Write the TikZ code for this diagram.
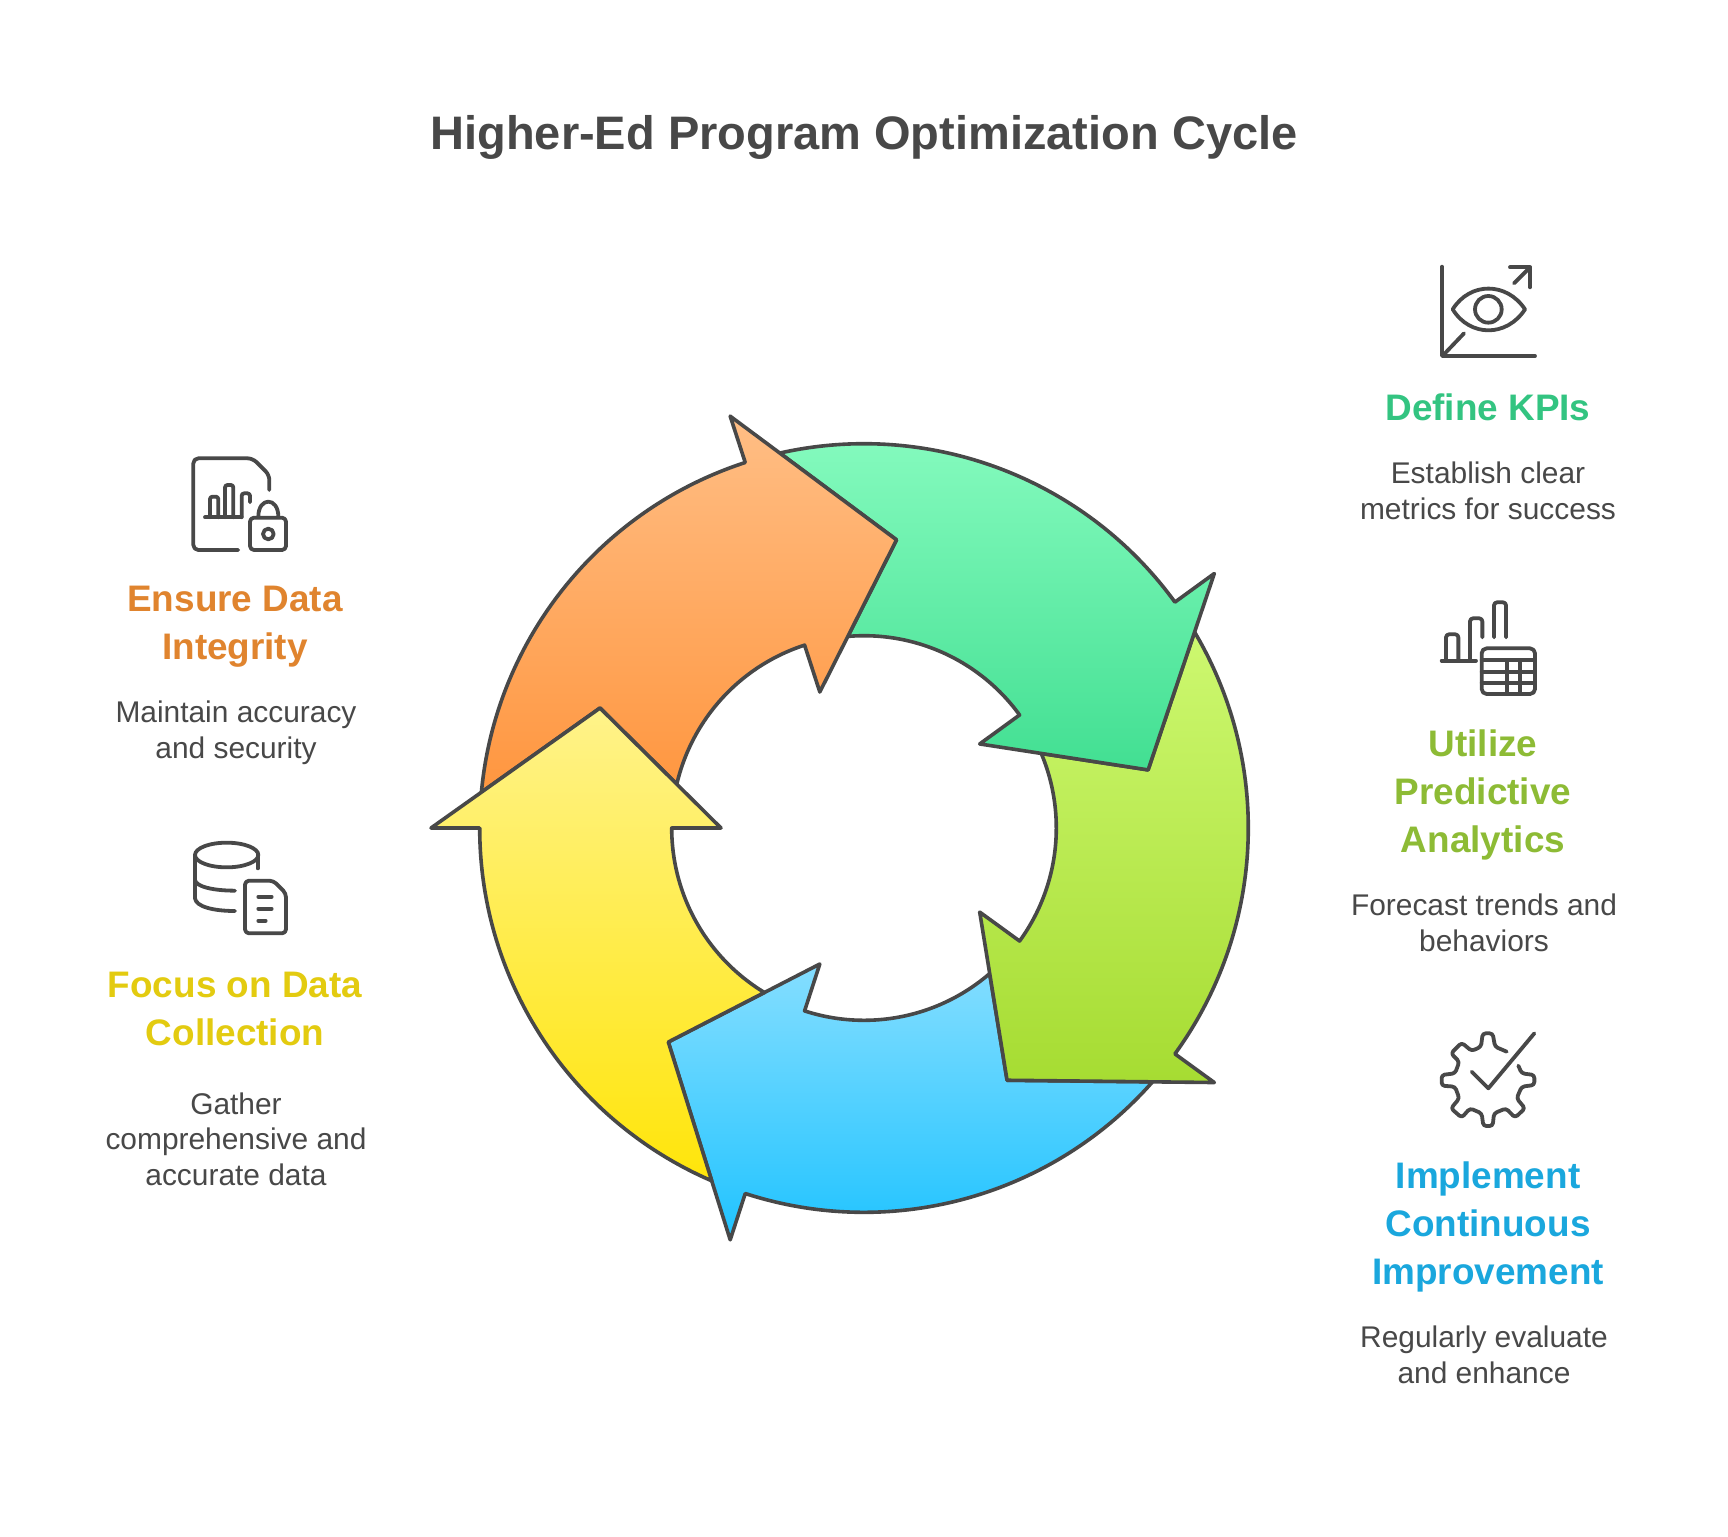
\documentclass[tikz,border=0pt]{standalone}
\usepackage{fontspec}
\setmainfont{Liberation Sans}
\definecolor{ink}{HTML}{484848}
\definecolor{bluet}{HTML}{85DEFF}\definecolor{blueb}{HTML}{1FC3FF}
\definecolor{limet}{HTML}{CDF870}\definecolor{limeb}{HTML}{A6DC32}
\definecolor{greent}{HTML}{88FCC0}\definecolor{greenb}{HTML}{42DF92}
\definecolor{oranget}{HTML}{FFBE85}\definecolor{orangeb}{HTML}{FF963F}
\definecolor{yellowt}{HTML}{FFF38A}\definecolor{yellowb}{HTML}{FFE50A}
\definecolor{kpi}{HTML}{33C481}
\definecolor{ana}{HTML}{8DBB35}
\definecolor{imp}{HTML}{1AA7DD}
\definecolor{ens}{HTML}{E0842E}
\definecolor{foc}{HTML}{E3CB10}
\tikzset{
  ring/.style={draw=ink,line width=3.6pt,line join=round},
  ico/.style={draw=ink,line width=3.8pt,line cap=round,line join=round},
  head/.style={inner sep=0pt,align=center,font=\fontsize{36.9}{48}\selectfont\bfseries},
  body/.style={inner sep=0pt,align=center,text=ink,font=\fontsize{29.9}{35.7}\selectfont},
  ttl/.style={inner sep=0pt,text=ink,font=\fontsize{47}{55}\selectfont\bfseries},
}
\newcommand{\ringarrow}[3]{%
  \path[ring,top color=#2,bottom color=#3]
    ({#1-66.66}:384.3) arc[start angle={#1-66.66},end angle={#1},radius=384.3]
    -- (#1:433) -- ({#1+24.44}:290) -- (#1:143) -- (#1:192.3)
    arc[start angle={#1},end angle={#1-58.8},radius=192.3]
    -- ({#1-47.56}:290) -- cycle;}
\begin{document}
\begin{tikzpicture}[x=1pt,y=-1pt]
\useasboundingbox (0,0) rectangle (1728,1536);
\fill[white] (0,0) rectangle (1728,1536);
\begin{scope}[shift={(864,828)}]
  \ringarrow{108}{bluet}{blueb}
  \ringarrow{36}{limet}{limeb}
  \ringarrow{-36}{greent}{greenb}
  \ringarrow{252}{oranget}{orangeb}
  \ringarrow{180}{yellowt}{yellowb}
\end{scope}
\node[ttl] (title) at (864,137) {Higher-Ed Program Optimization Cycle};
\node[head,text=kpi] (h1) at (1488,407) {Define KPIs};
\node[body] (b1) at (1488,490.5) {Establish clear\\metrics for success};
\node[head,text=ana] (h2) at (1483,795) {Utilize\\Predictive\\Analytics};
\node[body] (b2) at (1484,922.5) {Forecast trends and\\behaviors};
\node[head,text=imp] (h3) at (1488,1227) {Implement\\Continuous\\Improvement};
\node[body] (b3) at (1484,1354.5) {Regularly evaluate\\and enhance};
\node[head,text=ens] (h4) at (235,627) {Ensure Data\\Integrity};
\node[body] (b4) at (236,732.5) {Maintain accuracy\\and security};
\node[head,text=foc] (h5) at (235,1008.5) {Focus on Data\\Collection};
\node[body] (b5) at (236,1139) {Gather\\comprehensive and\\accurate data};
% icon: KPI
\begin{scope}[shift={(1400,250)},x=1/3*1pt,y=-1/3*1pt]
  \draw[ico] (126,50) -- (126,318) -- (405,318);
  \draw[ico] (130,315) -- (192,250);
  \draw[ico] (342,100) -- (390,52);
  \draw[ico] (330,52) -- (390,52) -- (390,112);
  \draw[ico] (158,178) .. controls (210,95) and (320,95) .. (375,178) .. controls (320,262) and (210,262) .. cycle;
  \draw[ico] (265,178) circle[radius=40];
\end{scope}
% icon: analytics
\begin{scope}[shift={(1420,590)},x=1/3*1pt,y=-1/3*1pt]
  \draw[ico] (65,212) -- (168,212);
  \draw[ico,rounded corners=3pt] (78,212) -- (78,133) -- (115,133) -- (115,212);
  \draw[ico,rounded corners=3pt] (150,212) -- (150,85) -- (187,85) -- (187,142);
  \draw[ico,rounded corners=3pt] (222,142) -- (222,37) -- (258,37) -- (258,142);
  \draw[ico,rounded corners=5pt] (185,175) rectangle (345,312);
  \draw[ico] (185,210) -- (345,210) (185,245) -- (345,245) (185,278) -- (345,278);
  \draw[ico] (262,210) -- (262,312) (300,210) -- (300,312);
\end{scope}
% icon: gear
\begin{scope}[shift={(1420,1020)},x=1/3*1pt,y=-1/3*1pt]
  \draw[ico,rounded corners=3pt] (260,95) -- (225,80) -- (218,40) -- (188,40) -- (183,80) -- (155,93) -- (125,68) -- (93,100) -- (118,125) -- (105,160) -- (65,165) -- (65,197) -- (105,200) -- (118,235) -- (93,265) -- (125,293) -- (150,265) -- (185,280) -- (190,318) -- (218,318) -- (222,280) -- (258,265) -- (285,293) -- (315,265) -- (290,235) -- (305,200) -- (343,195) -- (343,165) -- (305,160) -- (295,137);
  \draw[ico] (155,155) -- (205,205) -- (343,40);
\end{scope}
% icon: integrity
\begin{scope}[shift={(170,445)},x=1/3*1pt,y=-1/3*1pt]
  \draw[ico,rounded corners=5pt] (298,135) -- (298,90) -- (248,40) -- (70,40) -- (70,315) -- (205,315);
  \draw[ico] (105,217) -- (215,217);
  \draw[ico,rounded corners=2.5pt] (120,217) -- (120,155) -- (145,155) -- (145,217);
  \draw[ico,rounded corners=2.5pt] (165,217) -- (165,120) -- (190,120) -- (190,217);
  \draw[ico,rounded corners=2.5pt] (215,217) -- (215,145) -- (240,145) -- (240,172);
  \draw[ico,rounded corners=4pt] (240,218) rectangle (348,315);
  \draw[ico] (265,215) .. controls (265,155) and (325,155) .. (325,215);
  \draw[ico] (295,267) circle[radius=16];
\end{scope}
% icon: data
\begin{scope}[shift={(170,830)},x=1/3*1pt,y=-1/3*1pt]
  \draw[ico] (170,75) ellipse[x radius=95,y radius=37];
  \draw[ico] (75,75) -- (75,205) .. controls (78,230) and (130,243) .. (195,243);
  \draw[ico] (75,150) .. controls (78,170) and (130,182) .. (195,182);
  \draw[ico] (263,75) -- (263,115);
  \draw[ico,rounded corners=4pt] (225,152) -- (310,152) -- (348,190) -- (348,310) -- (225,310) -- cycle;
  \draw[ico] (265,200) -- (305,200) (265,236) -- (305,236) (265,272) -- (287,272);
\end{scope}
\end{tikzpicture}
\end{document}
